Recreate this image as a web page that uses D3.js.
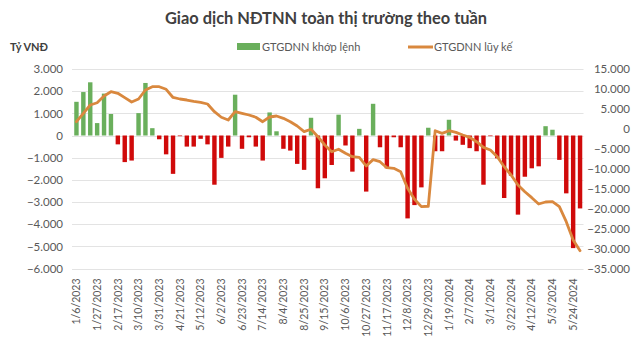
<!DOCTYPE html>
<html><head><meta charset="utf-8">
<script src="https://cdn.jsdelivr.net/npm/d3@7"></script>
<style>
html,body{margin:0;padding:0;background:#fff;}
svg{display:block;font-family:Lato, "Open Sans", sans-serif;}
</style></head>
<body><svg id="c" width="640" height="338"></svg>
<script>
const dates = ["1/6/2023","1/13/2023","1/20/2023","1/27/2023","2/3/2023","2/10/2023","2/17/2023","2/24/2023","3/3/2023","3/10/2023","3/17/2023","3/24/2023","3/31/2023","4/7/2023","4/14/2023","4/21/2023","4/28/2023","5/5/2023","5/12/2023","5/19/2023","5/26/2023","6/2/2023","6/9/2023","6/16/2023","6/23/2023","6/30/2023","7/7/2023","7/14/2023","7/21/2023","7/28/2023","8/4/2023","8/11/2023","8/18/2023","8/25/2023","9/1/2023","9/8/2023","9/15/2023","9/22/2023","9/29/2023","10/6/2023","10/13/2023","10/20/2023","10/27/2023","11/3/2023","11/10/2023","11/17/2023","11/24/2023","12/1/2023","12/8/2023","12/15/2023","12/22/2023","12/29/2023","1/5/2024","1/12/2024","1/19/2024","1/26/2024","2/2/2024","2/7/2024","2/16/2024","2/23/2024","3/1/2024","3/8/2024","3/15/2024","3/22/2024","3/29/2024","4/5/2024","4/12/2024","4/19/2024","4/26/2024","5/3/2024","5/10/2024","5/17/2024","5/24/2024","5/31/2024"];
const matched = [1520,1960,2400,560,1890,970,-400,-1200,-1130,1010,2370,330,-170,-850,-1730,-30,-500,-500,-150,-400,-2220,-1010,-500,1840,-600,-80,-500,-1130,1040,190,-600,-680,-1280,-1550,800,-2380,-1930,-1330,940,-450,-1630,300,-2530,1430,-530,-1480,-80,-530,-3740,-3140,-2340,350,-710,-710,710,-230,-420,-570,-710,-2220,-30,-1030,-2820,-1810,-3570,-1860,-1480,-1390,420,260,-1100,-2610,-5080,-3290];
const cumulative = [1790,3900,5980,6550,8230,9310,8910,7810,6730,7480,9740,10560,10560,9910,7860,7480,7230,6900,6650,6230,4300,2900,2220,4300,3900,3470,2900,1790,2970,3220,2640,1790,710,-710,-110,-1970,-4050,-5730,-5120,-6130,-6980,-7130,-9310,-7710,-8230,-9740,-9880,-10740,-14900,-17650,-19500,-19400,-460,-1120,-460,-870,-1540,-2120,-3220,-4630,-5300,-6980,-9490,-11570,-14070,-15750,-17250,-18830,-18330,-18250,-19500,-23260,-27850,-30530];
const leftTicks = [3000,2000,1000,0,-1000,-2000,-3000,-4000,-5000,-6000];
const rightTicks = [15000,10000,5000,0,-5000,-10000,-15000,-20000,-25000,-30000,-35000];
const title = "Giao dịch NĐTNN toàn thị trường theo tuần";
const unitLabel = "Tỷ VNĐ";
const seriesNames = ["GTGDNN khớp lệnh","GTGDNN lũy kế"];

const svg = d3.select("#c");
const pTop = 69, pBottom = 268.5, pLeft = 73, pRight = 583.5;
const x = d3.scaleBand().domain(dates).range([pLeft,pRight]).paddingInner(0.36).paddingOuter(0.18);
const yL = d3.scaleLinear().domain([-6000,3000]).range([pBottom,pTop]);
const yR = d3.scaleLinear().domain([-35000,15000]).range([pBottom,pTop]);
const fmt = v => d3.format(",")(v).replace(/,/g,".");
const txt = "#595959";

svg.append("text").attr("x",326).attr("y",24).attr("text-anchor","middle")
  .attr("font-size",16.4).attr("font-weight","bold").attr("fill","#404040").text(title);
svg.append("text").attr("x",10).attr("y",51).attr("font-size",11).attr("font-weight","bold").attr("fill","#404040").text(unitLabel);

// legend
svg.append("rect").attr("x",237).attr("y",43).attr("width",23).attr("height",7).attr("fill","#6aaf5c");
svg.append("text").attr("x",262).attr("y",51).attr("font-size",11).attr("fill",txt).text(seriesNames[0]);
svg.append("line").attr("x1",408).attr("x2",433).attr("y1",47).attr("y2",47).attr("stroke","#d9883e").attr("stroke-width",3);
svg.append("text").attr("x",434).attr("y",51).attr("font-size",11).attr("fill",txt).text(seriesNames[1]);

// grid
svg.append("g").selectAll("line").data(leftTicks).join("line")
  .attr("x1",pLeft-1).attr("x2",pRight).attr("y1",d=>Math.round(yL(d))+0.5).attr("y2",d=>Math.round(yL(d))+0.5)
  .attr("stroke","#e3e3e3").attr("stroke-width",1);

// left axis
const gL = svg.append("g").attr("transform",`translate(${pLeft-10},0)`)
  .call(d3.axisLeft(yL).tickValues(leftTicks).tickFormat(fmt).tickSize(0).tickPadding(0));
gL.select(".domain").remove();
gL.selectAll("text").attr("font-size",11.5).attr("fill",txt).attr("font-family","Lato, sans-serif");

// right axis
const gR = svg.append("g").attr("transform",`translate(630,0)`)
  .call(d3.axisLeft(yR).tickValues(rightTicks).tickFormat(fmt).tickSize(0).tickPadding(0));
gR.select(".domain").remove();
gR.selectAll("text").attr("font-size",11.5).attr("fill",txt).attr("font-family","Lato, sans-serif");

// x axis
const xTicks = dates.filter((d,i)=>i%3===0);
const gX = svg.append("g").attr("transform",`translate(0,${pBottom+8})`)
  .call(d3.axisBottom(x).tickValues(xTicks).tickSize(0).tickPadding(0));
gX.select(".domain").remove();
gX.selectAll("text").attr("font-size",10.5).attr("fill",txt).attr("font-family","Lato, sans-serif")
  .attr("transform","rotate(-90)").attr("text-anchor","end").attr("dx",0).attr("dy","0.35em").attr("y",0).attr("x",-2);

// bars
svg.append("g").selectAll("rect").data(matched).join("rect")
  .attr("x",(d,i)=>x(dates[i])).attr("width",x.bandwidth())
  .attr("y",d=>yL(Math.max(0,d))).attr("height",d=>Math.abs(yL(d)-yL(0)))
  .attr("fill",d=>d>=0?"#6aaf5c":"#d00a0a");

// line
const line = d3.line().x((d,i)=>x(dates[i])+x.bandwidth()/2).y(d=>yR(d)).curve(d3.curveLinear);
svg.append("path").datum(cumulative).attr("d",line).attr("fill","none")
  .attr("stroke","#d9883e").attr("stroke-width",2.8).attr("stroke-linejoin","round").attr("stroke-linecap","round");
</script></body></html>
